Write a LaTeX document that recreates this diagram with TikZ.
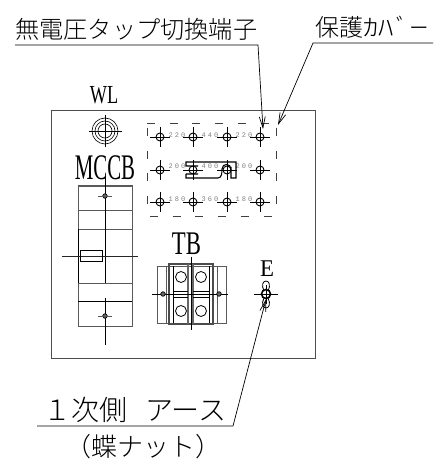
\documentclass[tikz,border=0pt]{standalone}
\usepackage{fontspec}
\usepackage{graphicx}
\setmainfont{Liberation Serif}
\newfontfamily\cjk{Noto Sans CJK JP Light}
\newfontfamily\tinyfont[LetterSpace=28]{Liberation Mono}
\usetikzlibrary{arrows.meta}
\tikzset{
  txt/.style={inner sep=0pt,font=\cjk,text=black},
  lat/.style={inner sep=0pt,text=black},
  volt/.style={inner sep=0pt,font=\tinyfont\fontsize{7}{7}\selectfont,text=black!50},
  thick line/.style={line width=0.9pt,black},
  thin line/.style={line width=0.6pt,black},
  gray line/.style={line width=1pt,black!65},
  cover/.style={line width=0.9pt,black!75,dash pattern=on 8pt off 14.7pt},
  lead/.style={line width=0.7pt,black},
  lead arrow/.style={lead,-{Straight Barb[length=11pt,width=6pt,line width=0.7pt]}},
  hole/.style={circle,draw,line width=0.9pt,minimum size=8pt,inner sep=0pt,black},
  lug/.style={circle,draw=black,fill=black!60,line width=0.7pt,minimum size=4.5pt,inner sep=0pt},
  bolt/.style={circle,draw=black,line width=1.6pt,minimum size=9pt,inner sep=0pt},
}
\begin{document}
\begin{tikzpicture}[x=1pt,y=-1pt]
\useasboundingbox (0,0) rectangle (437,462);
% panel
\node[draw=black!70,line width=1pt,minimum width=264pt,minimum height=248pt,inner sep=0pt,anchor=north west] (panel) at (51,110) {};
% WL
\node[lat] (wl) at (104,95) {\fontsize{26}{26}\selectfont\scalebox{0.7}[1]{WL}};
\foreach \r/\n in {13/a,10/b,7/c}
  \node[circle,draw,line width=0.6pt,minimum size={2*\r*1pt},inner sep=0pt] (wl\n) at (105,131) {};
\draw[thin line] (89,131) -- (122,131);
\draw[thin line] (105,115) -- (105,147);
% cover
\draw[cover] (147,123) -- (276,123);
\draw[cover] (276,128) -- (276,216);
\draw[cover] (147,128) -- (147,216);
\draw[cover] (150,216) -- (276,216);
% terminals
\foreach \i/\x in {1/160,2/193,3/227,4/260}
  \foreach \j/\y in {1/137,2/170,3/202}{
    \node[hole] (t\i\j) at (\x,\y) {};
    \draw[thin line] (\x-10,\y) -- (\x+10,\y);
    \draw[thin line] (\x,\y-10) -- (\x,\y+10);
  }
\node[volt] (v11) at (177,135) {220};
\node[volt] (v12) at (210,135) {440};
\node[volt] (v13) at (244,135) {220};
\node[volt] (v21) at (177,166) {200};
\node[volt] (v22) at (210,166) {400};
\node[volt] (v23) at (244,166) {200};
\node[volt] (v31) at (177,199) {180};
\node[volt] (v32) at (210,199) {360};
\node[volt] (v33) at (244,199) {180};
% jumper
\draw[line width=1.05pt,black] (186,174) -- (186,178) -- (198,178) (198,166) -- (186,166) -- (186,162) -- (236,162) -- (236,178) -- (231,178) -- (231,167)
  (186,174) -- (198,174) (186,178) -- (218,178) .. controls (222,178) and (222,172) .. (222,169) .. controls (222,163) and (231,163) .. (231,169);
% MCCB
\node[lat] (mccb) at (105,167.5) {\fontsize{36}{36}\selectfont\scalebox{0.58}[1]{MCCB}};
\draw[gray line] (78,186) rectangle (132,326);
\draw[gray line] (78,210) -- (132,210) (78,229) -- (132,229) (78,283) -- (132,283);
\draw[thin line] (78,301) -- (132,301);
\draw[thick line] (78,229) -- (78,283);
\draw[thick line] (105,178) -- (105,283);
\draw[thick line] (105,298) -- (105,345);
\draw[line width=1pt,black!85] (62,256) -- (138,256);
\node[draw=black,line width=0.8pt,minimum width=22pt,minimum height=11pt,inner sep=0pt] (handle) at (91,255.5) {};
\node[lug] (m1) at (105,196) {};
\node[lug] (m2) at (105,316) {};
\draw[gray line] (98,196) -- (112,196) (98,316) -- (112,316);
% TB
\node[lat] (tb) at (186.5,244) {\fontsize{33}{33}\selectfont\scalebox{0.69}[1]{TB}};
\draw[gray line] (157,266) rectangle (226,323);
\draw[line width=1.2pt,black!70] (169,264) rectangle (213,324);
\draw[gray line] (166,266) -- (166,323) (217,266) -- (217,323);
\draw[thick line] (173,266) -- (173,323) (209,266) -- (209,323);
\draw[line width=1.5pt,black!60] (188,264) -- (188,324) (193,264) -- (193,324);
\draw[thin line] (173,291) -- (188,291) (193,291) -- (209,291) (173,297) -- (188,297) (193,297) -- (209,297);
\draw[thin line] (191,257) -- (191,330);
\draw[thin line] (152,294) -- (228,294);
\foreach \n/\x/\y in {a/181/277,b/201/277,c/181/311,d/201/311}
  \node[circle,draw,line width=0.8pt,minimum size=11pt,inner sep=0pt] (tb\n) at (\x,\y) {};
\node[lug] (tl) at (163,294) {};
\node[lug] (tr) at (219,294) {};
% E
\node[lat] (e) at (267,269) {\fontsize{24}{24}\selectfont\scalebox{0.95}[1]{E}};
\draw[line width=0.8pt] (264,291) .. controls (261,285) and (263,281) .. (266,281) .. controls (269,281) and (271,285) .. (268,291);
\draw[line width=0.8pt] (264,298) .. controls (261,304) and (263,308) .. (266,308) .. controls (269,308) and (271,304) .. (268,298);
\draw[thick line] (254,294) -- (278,294);
\draw[thick line] (266,285) -- (266,304);
\node[bolt] (ebolt) at (266,294) {};
% labels & leaders
\node[txt,anchor=west] (lab1) at (15,29) {\fontsize{24.2}{24}\selectfont 無電圧タップ切換端子};
\coordinate (l1a) at (15,45);
\coordinate (l1b) at (258,45);
\coordinate (l1c) at (263,129);
\draw[lead arrow] (l1a) -- (l1b) -- (l1c);
\node[txt,anchor=west] (lab2) at (315,27) {\fontsize{24}{24}\selectfont 保護\scalebox{1.3}[1]{ｶ}\scalebox{1.3}[1]{ﾊ}\hspace{2pt}ﾞ\hspace{1pt}\scalebox{1.6}[1]{ｰ}};
\coordinate (l2a) at (433,43);
\coordinate (l2b) at (313,43);
\coordinate (l2c) at (278,125);
\draw[lead arrow] (l2a) -- (l2b) -- (l2c);
\node[txt,anchor=west] (lab3) at (43,410) {\fontsize{28}{28}\selectfont １次側\hspace{18pt}アース};
\node[txt,anchor=west] (lab4) at (65,447) {\fontsize{26}{26}\selectfont （蝶ナット）};
\coordinate (l3a) at (37,426);
\coordinate (l3b) at (233,426);
\draw[lead arrow] (l3a) -- (l3b) -- (ebolt.south);
\end{tikzpicture}
\end{document}
